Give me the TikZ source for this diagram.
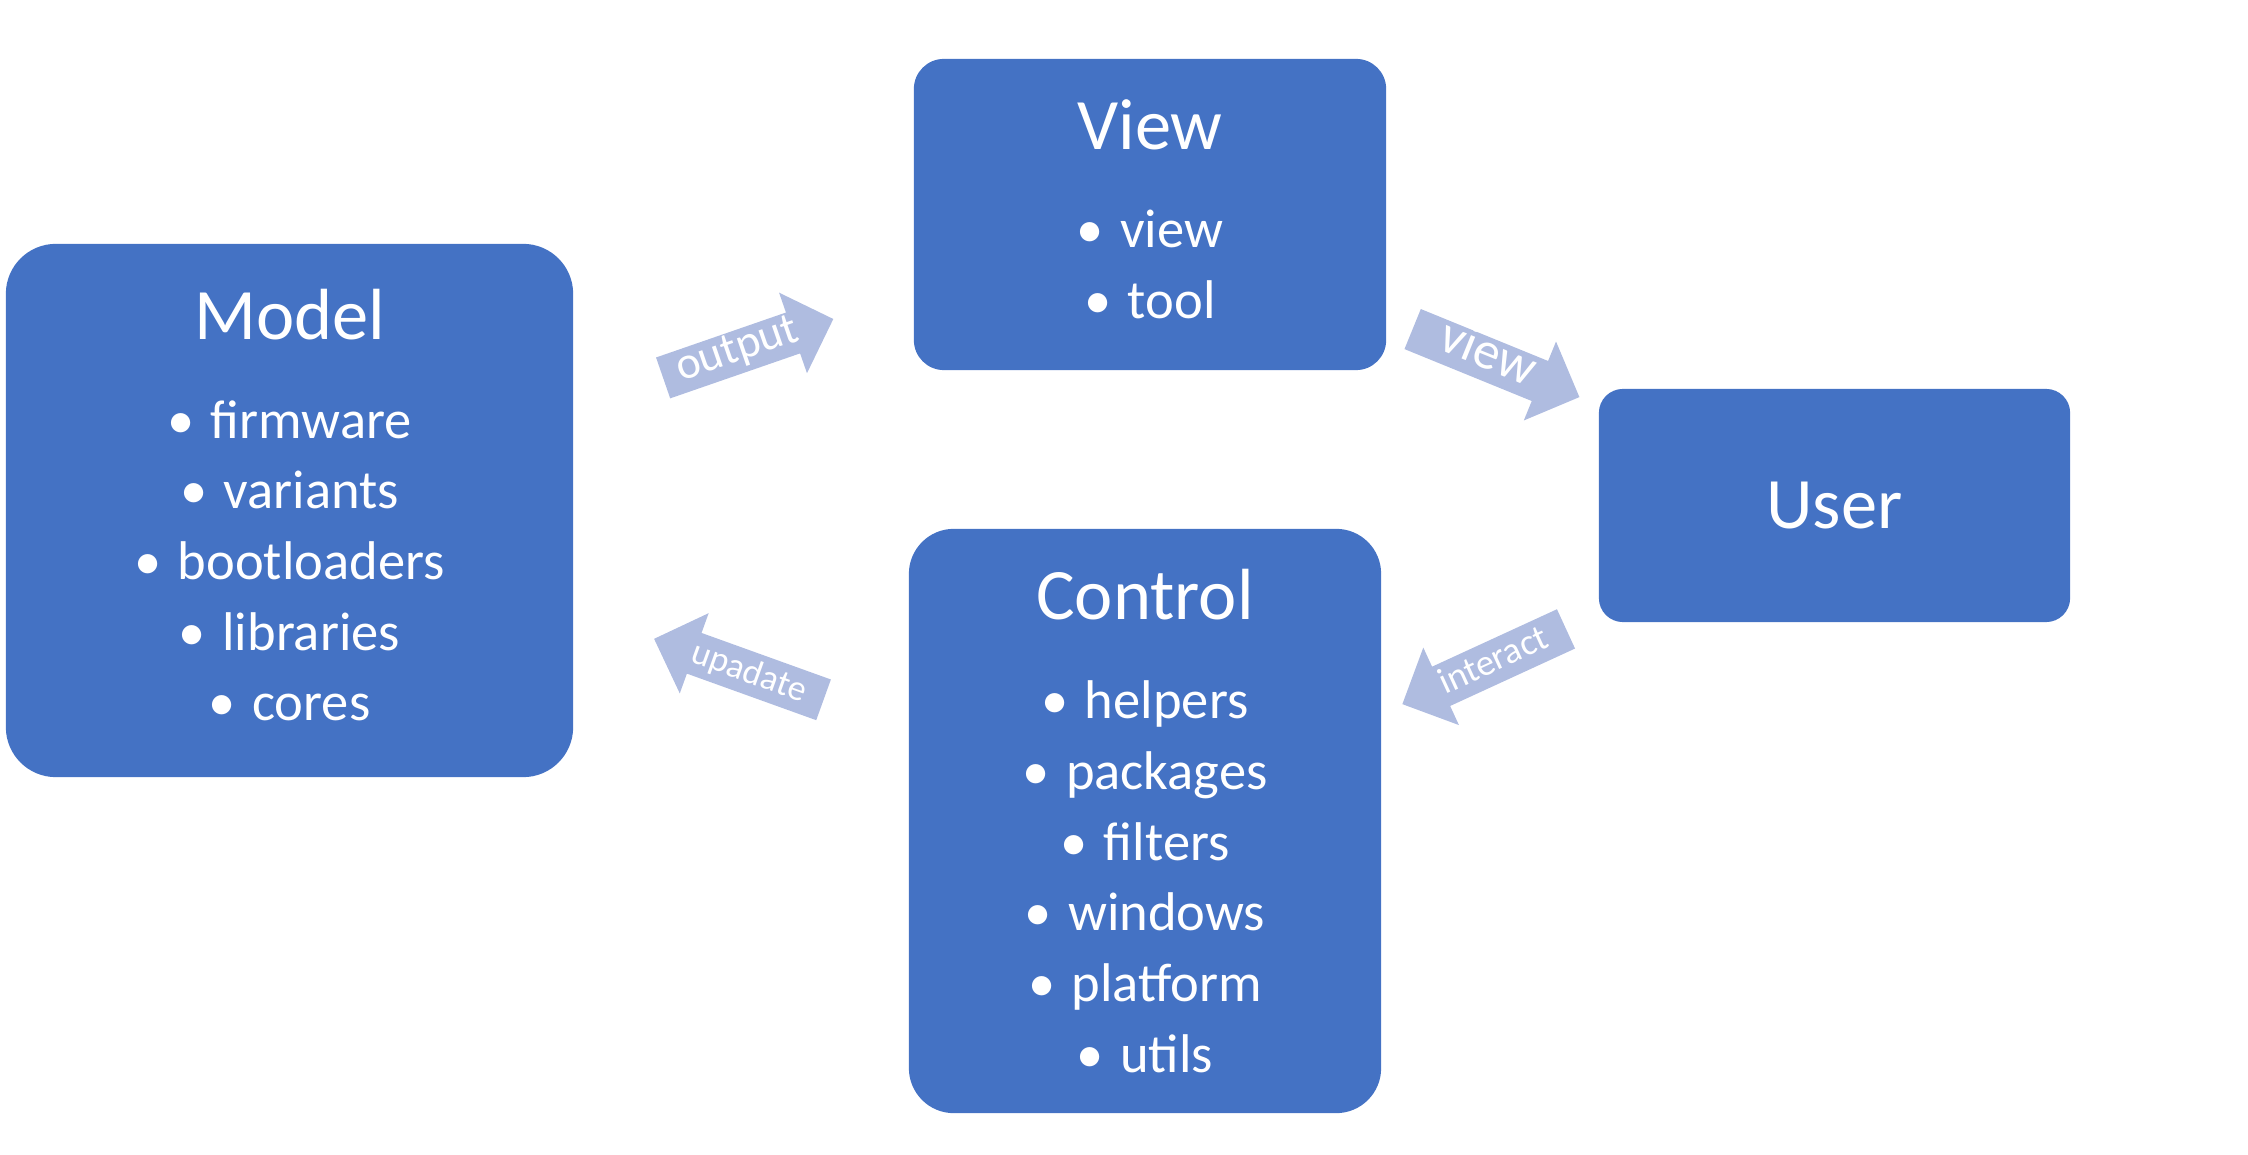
\documentclass[tikz,border=0pt]{standalone}
\usepackage{fontspec}
\setmainfont{Carlito}
\usetikzlibrary{shapes.arrows}
\definecolor{boxblue}{HTML}{4472C4}
\definecolor{arrowblue}{HTML}{AFBCE0}
\newcommand{\boxtitle}[1]{{\fontsize{20.6}{25}\selectfont #1}}
\newcommand{\bul}{•\hspace{0.3em}}
\tikzset{
  block/.style={fill=boxblue, text=white, align=center, inner sep=0pt,
    font=\fontsize{15.5}{20.1}\selectfont},
  flow/.style={single arrow, fill=arrowblue, text=white, inner sep=0pt,
    text height=8.6pt, text depth=3.3pt,
    minimum height=1.8cm, minimum width=0.84cm, single arrow head extend=0.21cm},
}
\begin{document}
\begin{tikzpicture}[x=0.01cm,y=0.01cm]
\useasboundingbox (0,0) rectangle (2248,-1155);
% boxes
\node[block, rounded corners=0.5cm, minimum width=5.67cm, minimum height=5.33cm, text depth=3.2pt] (model) at (289.5,-510.5)
  {\boxtitle{Model}\\[8pt] \bul firmware\\ \bul variants\\ \bul bootloaders\\ \bul libraries\\ \bul cores};
\node[block, rounded corners=0.3cm, minimum width=4.72cm, minimum height=3.11cm, text depth=3.2pt] (view) at (1150,-214.5)
  {\boxtitle{View}\\[8pt] \bul view\\ \bul tool};
\node[block, rounded corners=0.24cm, minimum width=4.71cm, minimum height=2.33cm] (user) at (1834.5,-505.5)
  {\boxtitle{User}};
\node[block, rounded corners=0.45cm, minimum width=4.72cm, minimum height=5.84cm] (control) at (1145,-821)
  {\boxtitle{Control}\\[8pt] \bul helpers\\ \bul packages\\ \bul filters\\ \bul windows\\ \bul platform\\ \bul utils};
% arrows
\node[flow, rotate=19.1, font=\fontsize{13}{15}\selectfont] (output) at (738,-352) {output};
\node[flow, rotate=-22.2, font=\fontsize{15}{17}\selectfont] (seen) at (1486,-359) {view};
\node[flow, shape border rotate=180, rotate=24.7, font=\fontsize{10.5}{13}\selectfont] (interact) at (1494,-662) {interact};
\node[flow, shape border rotate=180, rotate=-19.8, font=\fontsize{10.2}{13}\selectfont] (update) at (749,-673) {upadate};
\end{tikzpicture}
\end{document}
